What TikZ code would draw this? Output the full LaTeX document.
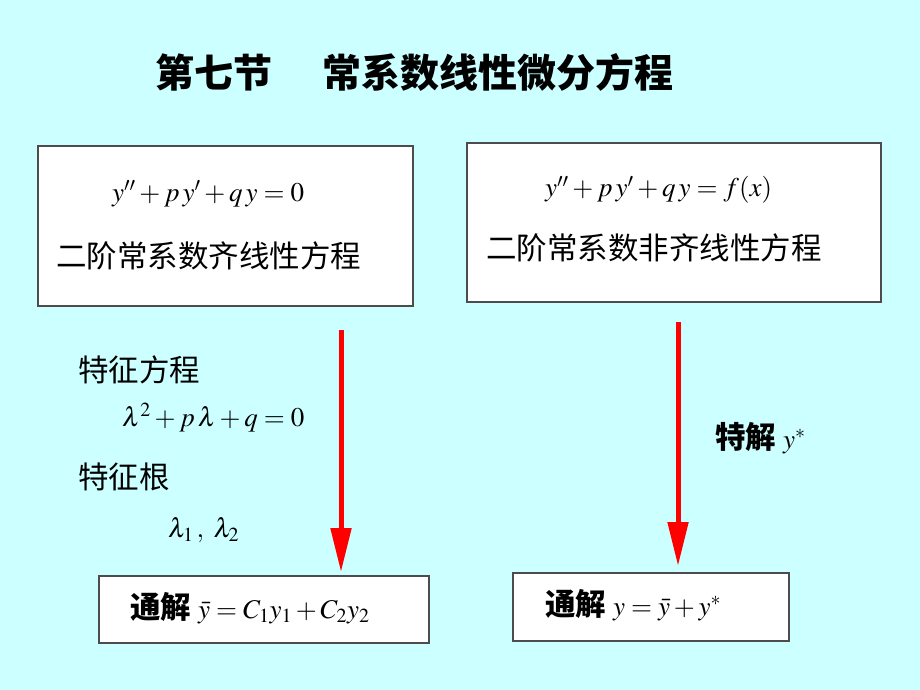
\documentclass[tikz,border=0pt]{standalone}
\usepackage{amsmath}
\usepackage{mathptmx}
\usepackage{fontspec}
\setmainfont{Liberation Serif}
\newfontfamily\cjk{Noto Sans CJK SC}
\usetikzlibrary{positioning,arrows.meta}
\definecolor{bgcyan}{RGB}{204,255,255}
\tikzset{
  box/.style={draw=black!70, line width=1.2pt, fill=white},
  txt/.style={anchor=west, inner sep=0pt},
  down/.style={red, line width=5pt, -{Triangle[length=44pt,width=20pt]}}
}
\newcommand{\mathsz}{\fontsize{27}{30}\selectfont}
\newcommand{\cjksz}{\fontsize{30.5}{33}\cjk}
\begin{document}
\begin{tikzpicture}[x=1pt, y=-1pt]
\fill[bgcyan] (0,0) rectangle (920,690);
\useasboundingbox (0,0) rectangle (920,690);
\node[txt] (title) at (155,72) {\fontsize{39}{42}\cjk\bfseries 第七节\hspace{1.3em}常系数线性微分方程};
% top boxes
\draw[box] (38,146) rectangle (413,306);
\draw[box] (467,143) rectangle (881,302);
\node[txt] (homeq) at (112,194) {\mathsz $y''+p\,y'+q\,y=0$};
\node[txt] (homtx) at (56,256) {\cjksz 二阶常系数齐线性方程};
\node[txt] (nheq) at (545,190) {\mathsz $y''+p\,y'+q\,y=f(x)$};
\node[txt] (nhtx) at (486,248) {\cjksz 二阶常系数非齐线性方程};
% left column
\node[txt] (chareq) at (78,370) {\cjksz 特征方程};
\node[txt] (chareqm) at (122,418) {\mathsz $\lambda^2+p\,\lambda+q=0$};
\node[txt] (roots) at (78,477) {\cjksz 特征根};
\node[txt] (rootsm) at (168,530) {\mathsz $\lambda_1\,,\ \lambda_2$};
\node[txt] (part) at (715,438) {\cjksz\bfseries 特解\ \normalfont\mathsz$y^*$};
% bottom boxes
\draw[box] (99,576) rectangle (429,643);
\draw[box] (513,573) rectangle (789,641);
\node[txt] (gen1) at (130,608) {\cjksz\bfseries 通解\ \normalfont\mathsz$\bar y=C_1y_1+C_2y_2$};
\node[txt] (gen2) at (545,605) {\cjksz\bfseries 通解\ \normalfont\mathsz$y=\bar y+y^*$};
% arrows
\coordinate (a1) at (341,330);
\coordinate (b1) at (341,572);
\coordinate (a2) at (678,322);
\coordinate (b2) at (678,566);
\draw[down] (a1) -- (b1);
\draw[down] (a2) -- (b2);
\end{tikzpicture}
\end{document}
